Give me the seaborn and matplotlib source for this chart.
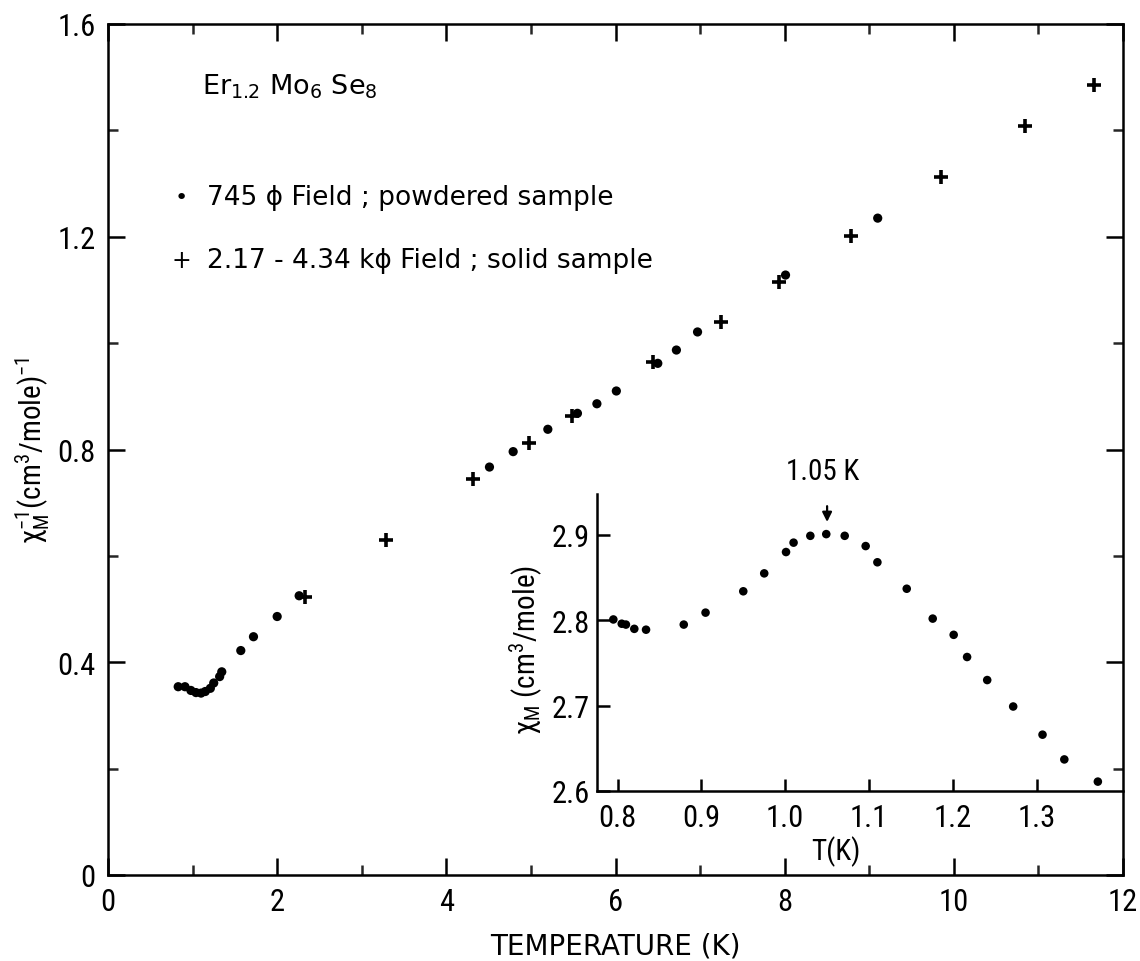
import matplotlib
matplotlib.use("Agg")
import matplotlib.pyplot as plt
import matplotlib.font_manager as fm
import seaborn as sns
import pandas as pd

# ---- data ----
powder_T = [0.83, 0.91, 0.98, 1.04, 1.10, 1.15, 1.21, 1.25, 1.32, 1.345, 1.57, 1.72,
            2.00, 2.26, 4.51, 4.79, 5.20, 5.55, 5.78, 6.01, 6.50, 6.72, 6.97, 8.01, 9.10]
powder_inv_chi = [0.354, 0.354, 0.347, 0.343, 0.342, 0.345, 0.351, 0.361, 0.373, 0.382, 0.422, 0.448,
                  0.486, 0.525, 0.767, 0.796, 0.838, 0.868, 0.886, 0.910, 0.962, 0.987, 1.021, 1.128, 1.235]

solid_T = [2.33, 3.29, 4.31, 4.98, 5.49, 6.44, 7.25, 7.93, 8.79, 9.85, 10.84, 11.66]
solid_inv_chi = [0.523, 0.630, 0.745, 0.813, 0.863, 0.964, 1.040, 1.115, 1.202, 1.312, 1.408, 1.486]

inset_T = [0.795, 0.805, 0.810, 0.820, 0.834, 0.879, 0.905, 0.950, 0.975, 1.001, 1.010, 1.030, 1.049,
           1.071, 1.096, 1.110, 1.145, 1.176, 1.201, 1.217, 1.241, 1.272, 1.307, 1.333, 1.373]
inset_chi = [2.801, 2.796, 2.795, 2.790, 2.789, 2.795, 2.809, 2.834, 2.855, 2.880, 2.891, 2.899, 2.901,
             2.899, 2.887, 2.868, 2.837, 2.802, 2.783, 2.757, 2.730, 2.699, 2.666, 2.637, 2.611]

main_xticks = [0, 2, 4, 6, 8, 10, 12]
main_yticks = [0, 0.4, 0.8, 1.2, 1.6]
main_ytick_labels = ["0", "0.4", "0.8", "1.2", "1.6"]
inset_xticks = [0.8, 0.9, 1.0, 1.1, 1.2, 1.3]
inset_xtick_labels = ["0.8", "0.9", "1.0", "1.1", "1.2", "1.3"]
inset_yticks = [2.6, 2.7, 2.8, 2.9]
inset_ytick_labels = ["2.6", "2.7", "2.8", "2.9"]

# ---- style ----
sns.set_theme(style="ticks")

# pick a narrow/condensed sans if one is installed (reference digits are condensed)
_names = {f.name for f in fm.fontManager.ttflist}
_stretch = "normal"
_base = "DejaVu Sans"
for cand in ["Liberation Sans Narrow", "DejaVu Sans Condensed", "Noto Sans Condensed",
             "Roboto Condensed", "Open Sans Condensed"]:
    if cand in _names:
        _base = cand
        break
else:
    for fam in ["DejaVu Sans", "Noto Sans", "Open Sans", "Roboto"]:
        if any(f.name == fam and f.stretch in ("condensed", "semi-condensed", 300, 400)
               for f in fm.fontManager.ttflist):
            _base = fam
            _stretch = "condensed"
            break

FAM = [_base, "DejaVu Sans"]
plt.rcParams["font.family"] = FAM
plt.rcParams["font.stretch"] = _stretch
plt.rcParams["mathtext.default"] = "regular"
plt.rcParams["axes.linewidth"] = 1.8

WIDE = dict(family=["DejaVu Sans"], stretch="normal")

powder = pd.DataFrame({"T": powder_T, "v": powder_inv_chi})
solid = pd.DataFrame({"T": solid_T, "v": solid_inv_chi})
inset = pd.DataFrame({"T": inset_T, "v": inset_chi})

W, H = 1140, 962
fig = plt.figure(figsize=(W / 100, H / 100), dpi=100)
fig.patch.set_facecolor("white")

def frac(l, r, t, b):
    return [l / W, (H - b) / H, (r - l) / W, (b - t) / H]

ax = fig.add_axes(frac(108, 1123, 25, 876))
ax.set_facecolor("white")

sns.scatterplot(data=powder, x="T", y="v", ax=ax, marker="o", s=44, color="black",
                edgecolor="none", legend=False)
sns.scatterplot(data=solid, x="T", y="v", ax=ax, marker="+", s=105, color="black",
                linewidth=2.6, legend=False)

ax.set_xlim(0, 12)
ax.set_ylim(0, 1.6)
ax.set_xticks(main_xticks)
ax.set_xticks([1, 3, 5, 7, 9, 11], minor=True)
ax.set_yticks(main_yticks)
ax.set_yticklabels(main_ytick_labels)
ax.set_yticks([0.2, 0.6, 1.0, 1.4], minor=True)
ax.tick_params(which="major", direction="in", length=12, width=1.8, top=True, right=True,
               labelsize=22, pad=9, colors="black")
ax.tick_params(which="minor", direction="in", length=7, width=1.8, top=True, right=True)
for s in ax.spines.values():
    s.set_color("black")
    s.set_linewidth(1.8)

ax.set_xlabel("TEMPERATURE (K)", fontsize=20, color="black", **WIDE)
ax.xaxis.set_label_coords(0.5, -0.066)
ax.set_ylabel("χ$_M^{-1}$(cm$^3$/mole)$^{-1}$", fontsize=21, color="black")
ax.yaxis.set_label_coords(-0.055, 0.5)

ax.text(0.093, 0.928, "Er$_{1.2}$ Mo$_6$ Se$_8$", transform=ax.transAxes, fontsize=19.5,
        ha="left", va="center", color="black", **WIDE)
ax.text(0.072, 0.797, "•", transform=ax.transAxes, fontsize=16, ha="center", va="center",
        color="black", **WIDE)
ax.text(0.098, 0.797, "745 ϕ Field ; powdered sample", transform=ax.transAxes, fontsize=19,
        ha="left", va="center", color="black", **WIDE)
ax.text(0.072, 0.723, "+", transform=ax.transAxes, fontsize=17, ha="center", va="center",
        color="black", **WIDE)
ax.text(0.098, 0.723, "2.17 - 4.34 kϕ Field ; solid sample", transform=ax.transAxes, fontsize=19,
        ha="left", va="center", color="black", **WIDE)

# ---- inset ----
ins = fig.add_axes(frac(597, 1123, 495, 792))
ins.set_facecolor("none")
sns.scatterplot(data=inset, x="T", y="v", ax=ins, marker="o", s=38, color="black",
                edgecolor="none", legend=False)
ins.set_xlim(0.7755, 1.403)
ins.set_ylim(2.6, 2.948)
ins.set_xticks(inset_xticks)
ins.set_xticklabels(inset_xtick_labels)
ins.set_yticks(inset_yticks)
ins.set_yticklabels(inset_ytick_labels)
ins.tick_params(direction="in", length=9, width=1.8, top=False, right=False,
                labelsize=22, colors="black")
ins.tick_params(axis="x", pad=9)
ins.tick_params(axis="y", pad=5)
ins.spines["top"].set_visible(False)
ins.spines["right"].set_visible(False)
for k in ("left", "bottom"):
    ins.spines[k].set_color("black")
    ins.spines[k].set_linewidth(1.8)
ins.set_xlabel("T(K)", fontsize=21, color="black")
ins.xaxis.set_label_coords(0.455, -0.15)
ins.set_ylabel("χ$_M$ (cm$^3$/mole)", fontsize=21, color="black")
ins.yaxis.set_label_coords(-0.098, 0.48)

ins.annotate("", xy=(1.05, 2.912), xytext=(1.05, 2.937),
             arrowprops=dict(arrowstyle="-|>", color="black", lw=1.6, mutation_scale=14),
             annotation_clip=False)
ins.text(1.045, 2.975, "1.05 K", fontsize=21, ha="center", va="center", color="black",
         clip_on=False)

fig.savefig("out.png", dpi=100, facecolor="white")
